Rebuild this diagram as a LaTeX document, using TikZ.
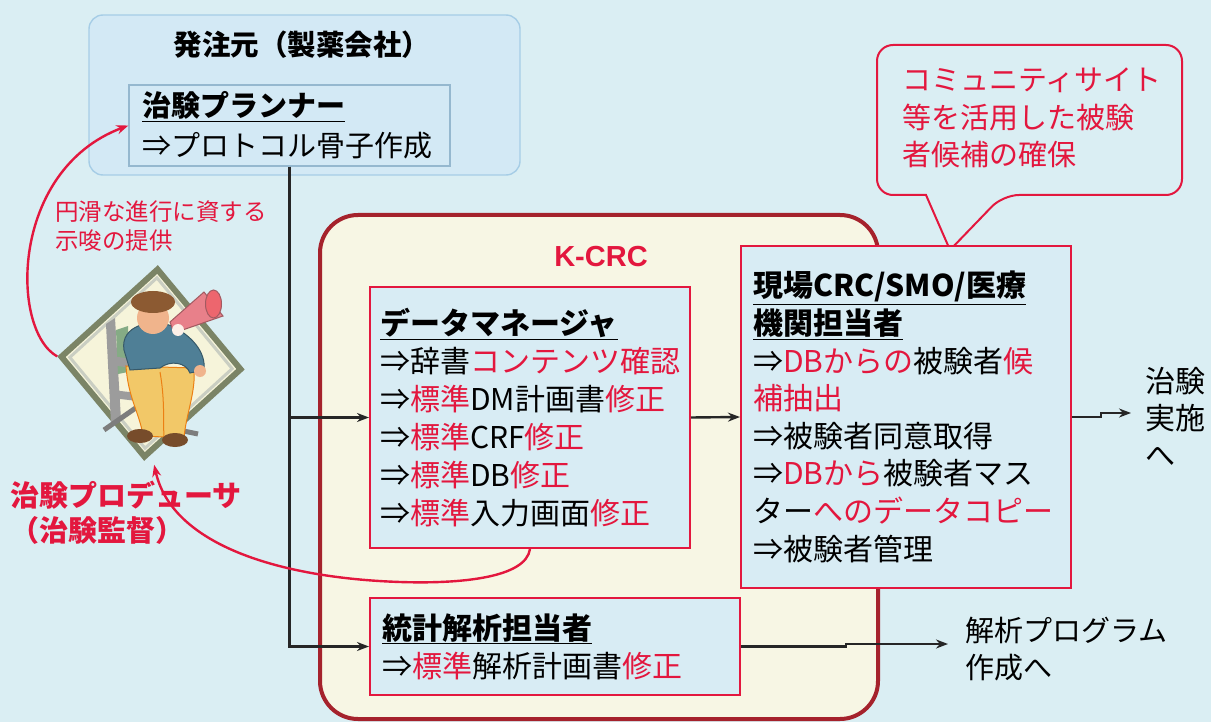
\documentclass[tikz,border=0pt]{standalone}
\usepackage{fontspec}
\setmainfont{Noto Sans CJK JP}
\newfontfamily\labelfont{Liberation Sans}
\usepackage{xcolor}
\usetikzlibrary{shapes.geometric, arrows.meta, positioning, calc}

\definecolor{sky}{HTML}{DAEEF3}
\definecolor{ownerfill}{HTML}{D3E9F5}
\definecolor{ownerline}{HTML}{A6CDE6}
\definecolor{crcfill}{HTML}{F7F6E4}
\definecolor{crcline}{HTML}{A5222C}
\definecolor{markred}{HTML}{E3173E}
\definecolor{rolefill}{HTML}{D8ECF4}
\definecolor{frameolive}{HTML}{7B8466}
\definecolor{framecream}{HTML}{F6F4DA}
\definecolor{sweater}{HTML}{4F7F96}
\definecolor{pants}{HTML}{F2C868}
\definecolor{skin}{HTML}{F0B48C}
\definecolor{hair}{HTML}{8C5A32}
\definecolor{horn}{HTML}{E8808A}
\definecolor{chair}{HTML}{9C9C9C}

\newcommand{\redtxt}[1]{\textcolor{markred}{#1}}
\newcommand{\rolehead}[1]{\underline{\textbf{#1}}}

\begin{document}
\begin{tikzpicture}[
    x=1pt, y=-1pt,
    ownerbox/.style={draw=ownerline, fill=ownerfill, line width=1.4, rounded corners=14},
    plannerbox/.style={draw=ownerline!90!black, fill=ownerfill, line width=1.2, align=left, inner xsep=13, font=\fontsize{29}{40}\selectfont},
    crcbox/.style={draw=crcline, fill=crcfill, line width=4, rounded corners=38},
    rolebox/.style={draw=markred, fill=rolefill, line width=2, align=left, inner xsep=12, font=\fontsize{30}{37.6}\selectfont},
    bubble/.style={draw=markred, fill=sky, line width=2},
    goal/.style={align=left, inner ysep=0, font=\fontsize{29}{37.5}\selectfont},
    megaframe/.style={diamond, draw=frameolive, fill=framecream, line width=6, inner sep=0, minimum width=182, minimum height=190},
    flow/.style={-{Stealth[length=12pt, width=9pt]}, line width=2.4, draw=black!85},
    hint/.style={-{Stealth[length=12pt, width=9pt]}, line width=2.4, draw=markred}
]
    \useasboundingbox (0,0) rectangle (1211,722);
    \fill[sky] (0,0) rectangle (1211,722);

    % Sponsor
    \node[ownerbox, minimum width=431, minimum height=160] (owner) at (304.5,95) {};
    \node[font=\bfseries\fontsize{28.5}{30}\selectfont] (ownertitle) at (302,45) {発注元（製薬会社）};
    \node[plannerbox, text width=295, minimum height=81] (planner) at (289.5,125.5)
        {\rolehead{治験プランナー}\\⇒プロトコル骨子作成};

    % K-CRC
    \node[crcbox, minimum width=558, minimum height=504] (kcrc) at (599,467) {};
    \node[font=\labelfont\bfseries\fontsize{29}{30}\selectfont, text=markred] (kcrctitle) at (601,257) {K-CRC};

    % Callout
    \draw[bubble] (926,195) [rounded corners=16] -| (877,45) -| (1182,195) -- (1003,195)
        [sharp corners] -- (950,250) -- cycle;
    \node[text=markred, align=left, text width=262, inner sep=0, font=\fontsize{29}{37.5}\selectfont] (seekers) at (1033,118)
        {コミュニティサイト\\等を活用した被験\\者候補の確保};

    % Roles
    \node[rolebox, inner xsep=10, text width=300, minimum height=261, font=\fontsize{30}{38}\selectfont] (dm) at (530,417.5)
        {\rolehead{データマネージャ}\\
         ⇒辞書\redtxt{コンテンツ確認}\\
         ⇒\redtxt{標準}DM計画書\redtxt{修正}\\
         ⇒\redtxt{標準}CRF\redtxt{修正}\\
         ⇒\redtxt{標準}DB\redtxt{修正}\\
         ⇒\redtxt{標準}入力画面\redtxt{修正}};
    \node[rolebox, text width=306, minimum height=342] (field) at (906,417)
        {\rolehead{現場CRC/SMO/医療}\\
         \rolehead{機関担当者}\\
         ⇒\redtxt{DBからの}被験者\redtxt{候}\\
         \redtxt{補抽出}\\
         ⇒被験者同意取得\\
         ⇒\redtxt{DBから}被験者マス\\
         ター\redtxt{へのデータコピー}\\
         ⇒被験者管理};
    \node[rolebox, text width=346, minimum height=97, font=\fontsize{30}{38}\selectfont] (stat) at (555,646.5)
        {\rolehead{統計解析担当者}\\⇒\redtxt{標準}解析計画書\redtxt{修正}};

    % Outcomes
    \node[goal, anchor=west, inner xsep=14, font=\fontsize{30}{37}\selectfont] (trialgo) at (1131,417) {治験\\実施\\へ};
    \node[goal, anchor=west, inner xsep=17] (progs) at (948,649) {解析プログラム\\作成へ};

    % Producer
    \node[megaframe, rotate=-4] (director) at (151,363) {};
    \node[diamond, draw=frameolive!40, line width=3, inner sep=0, minimum width=164, minimum height=172, rotate=-4] (directorband) at (151,363) {};
    % chair
    \fill[chair] (106,324) -- (115,318) -- (121,420) -- (111,424) -- cycle;
    \fill[chair!85!green] (116,330) -- (128,326) -- (128,372) -- (118,374) -- cycle;
    \fill[chair] (112,356) -- (150,362) -- (150,371) -- (112,365) -- cycle;
    \fill[chair] (112,390) -- (146,394) -- (146,402) -- (112,398) -- cycle;
    \draw[chair!80!black, line width=5] (104,430) -- (150,398);
    \draw[chair!80!black, line width=5] (150,424) -- (198,434);
    % legs
    \filldraw[fill=pants, draw=orange!70!brown, line width=1]
        (126,366) .. controls (128,398) and (140,414) .. (143,436) -- (184,438)
        .. controls (186,414) and (196,392) .. (194,368) -- cycle;
    \draw[orange!70!brown, line width=1] (160,372) .. controls (165,400) and (163,420) .. (164,437);
    \fill[hair!85!black] (140,436) ellipse (13 and 7);
    \fill[hair!85!black] (175,440) ellipse (13 and 7);
    % body
    \filldraw[fill=sweater, draw=sweater!70!black, line width=1]
        (124,350) .. controls (120,326) and (150,318) .. (172,326)
        .. controls (192,336) and (206,352) .. (204,370) -- (190,373)
        .. controls (186,362) and (170,360) .. (160,368) -- (130,370) -- cycle;
    \fill[skin] (200,371) circle (6);
    % head
    \fill[skin] (153,318) circle (16);
    \fill[hair] (153,302) ellipse (22 and 11);
    % megaphone
    \filldraw[fill=horn, draw=horn!70!black, line width=1] (170,322) -- (204,292) -- (223,316) -- (174,333) -- cycle;
    \filldraw[fill=horn!80!red, draw=horn!70!black, line width=1] (213.5,304) ellipse (8 and 14);
    \fill[white!80!skin] (178,330) circle (6);

    \node[anchor=west, text=markred, align=left, inner sep=0, font=\fontsize{23.5}{29}\selectfont] (hintnote) at (55,226)
        {円滑な進行に資する\\示唆の提供};
    \node[anchor=west, text=markred, align=left, inner sep=0, font=\bfseries\fontsize{29}{35}\selectfont] (producer) at (10,513)
        {治験プロデューサ\\（治験監督）};

    % Flows
    \draw[flow] (planner.south) |- (dm.west);
    \draw[flow] (planner.south) |- (stat.west);
    \draw[flow] (dm.east) -- (field.west);
    \draw[flow] (field.east) -- ++(29,0) |- ([yshift=4]trialgo.west);
    \draw[flow] (stat.east) -- ++(105,0) |- ([yshift=5]progs.west);
    \draw[hint] (director.west) .. controls (10,330) and (10,170) .. (planner.west);
    \draw[hint] (dm.south) .. controls (526,578) and (460,584) .. (400,582)
        .. controls (280,578) and (172,545) .. ([shift={(10,4)}]director.south);

\end{tikzpicture}
\end{document}
